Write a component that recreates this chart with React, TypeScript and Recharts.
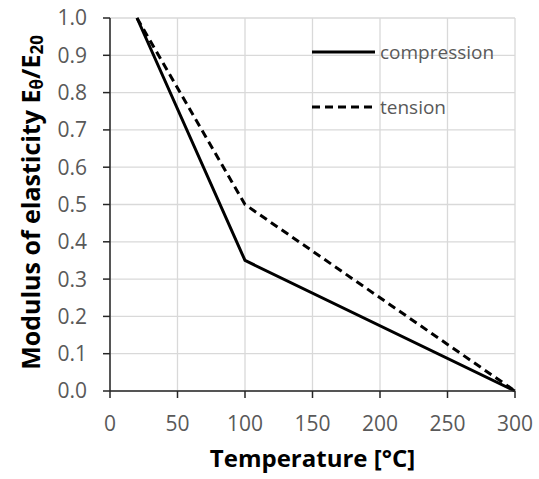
import React from "react";
import {
  LineChart,
  Line,
  XAxis,
  YAxis,
  CartesianGrid,
  Label,
} from "recharts";

const temps = [20, 100, 300];
const compression = [1.0, 0.35, 0.0];
const tension = [1.0, 0.5, 0.0];
const xTicks = [0, 50, 100, 150, 200, 250, 300];
const yTicks = [0, 0.1, 0.2, 0.3, 0.4, 0.5, 0.6, 0.7, 0.8, 0.9, 1.0];

const data = temps.map((t, i) => ({
  temp: t,
  compression: compression[i],
  tension: tension[i],
}));

const FONT = "'Open Sans', 'Noto Sans', sans-serif";
const TICK = { fontFamily: FONT, fontSize: 21, fill: "#595959" };

// rotated y title with the θ / 20 subscripts
const YTitle = ({ viewBox }: any) => {
  const cx = 30;
  const cy = viewBox.y + viewBox.height / 2 - 2;
  return (
    <text
      x={cx}
      y={cy}
      transform={`rotate(-90, ${cx}, ${cy})`}
      textAnchor="middle"
      dominantBaseline="central"
      fontFamily={FONT}
      fontSize={25}
      fontWeight="bold"
      fill="#000"
    >
      Modulus of elasticity E
      <tspan fontSize={17} dy={6}>θ</tspan>
      <tspan dy={-6}>/E</tspan>
      <tspan fontSize={17} dy={6}>20</tspan>
    </text>
  );
};

const LegendBox = () => (
  <div
    style={{
      position: "absolute",
      left: 312,
      top: 40,
      fontFamily: FONT,
      fontSize: 19,
      color: "#595959",
    }}
  >
    <div style={{ display: "flex", alignItems: "center", height: 24 }}>
      <svg width={64} height={10}>
        <line x1={0} y1={5} x2={63} y2={5} stroke="#000" strokeWidth={3} />
      </svg>
      <span style={{ marginLeft: 4 }}>compression</span>
    </div>
    <div style={{ display: "flex", alignItems: "center", height: 24, marginTop: 31 }}>
      <svg width={64} height={10}>
        <line x1={0} y1={5} x2={63} y2={5} stroke="#000" strokeWidth={3} strokeDasharray="8 5" />
      </svg>
      <span style={{ marginLeft: 4 }}>tension</span>
    </div>
  </div>
);

export default function App() {
  return (
    <div style={{ position: "absolute", left: 0, top: 0, width: 539, height: 479, background: "#fff" }}>
      <LineChart
        width={539}
        height={479}
        data={data}
        margin={{ top: 18, right: 24, left: 0, bottom: 0 }}
      >
        <CartesianGrid stroke="#d9d9d9" strokeWidth={1.3} />
        <XAxis
          dataKey="temp"
          type="number"
          domain={[0, 300]}
          ticks={xTicks}
          height={88}
          tick={TICK}
          tickSize={7}
          tickMargin={18}
          axisLine={{ stroke: "#262626", strokeWidth: 1.5 }}
          tickLine={{ stroke: "#262626", strokeWidth: 1.5 }}
        >
          <Label
            value="Temperature [°C]"
            position="insideBottom"
            offset={12}
            style={{ fontFamily: FONT, fontSize: 24, fontWeight: "bold", fill: "#000" }}
          />
        </XAxis>
        <YAxis
          type="number"
          domain={[0, 1]}
          ticks={yTicks}
          width={110}
          tick={TICK}
          tickFormatter={(v: number) => v.toFixed(1)}
          tickSize={7}
          tickMargin={16}
          axisLine={{ stroke: "#262626", strokeWidth: 1.5 }}
          tickLine={{ stroke: "#262626", strokeWidth: 1.5 }}
        >
          <Label content={YTitle} />
        </YAxis>
        <Line
          dataKey="compression"
          stroke="#000"
          strokeWidth={3}
          dot={false}
          type="linear"
          isAnimationActive={false}
        />
        <Line
          dataKey="tension"
          stroke="#000"
          strokeWidth={3}
          strokeDasharray="8 5"
          dot={false}
          type="linear"
          isAnimationActive={false}
        />
      </LineChart>
      <LegendBox />
    </div>
  );
}
